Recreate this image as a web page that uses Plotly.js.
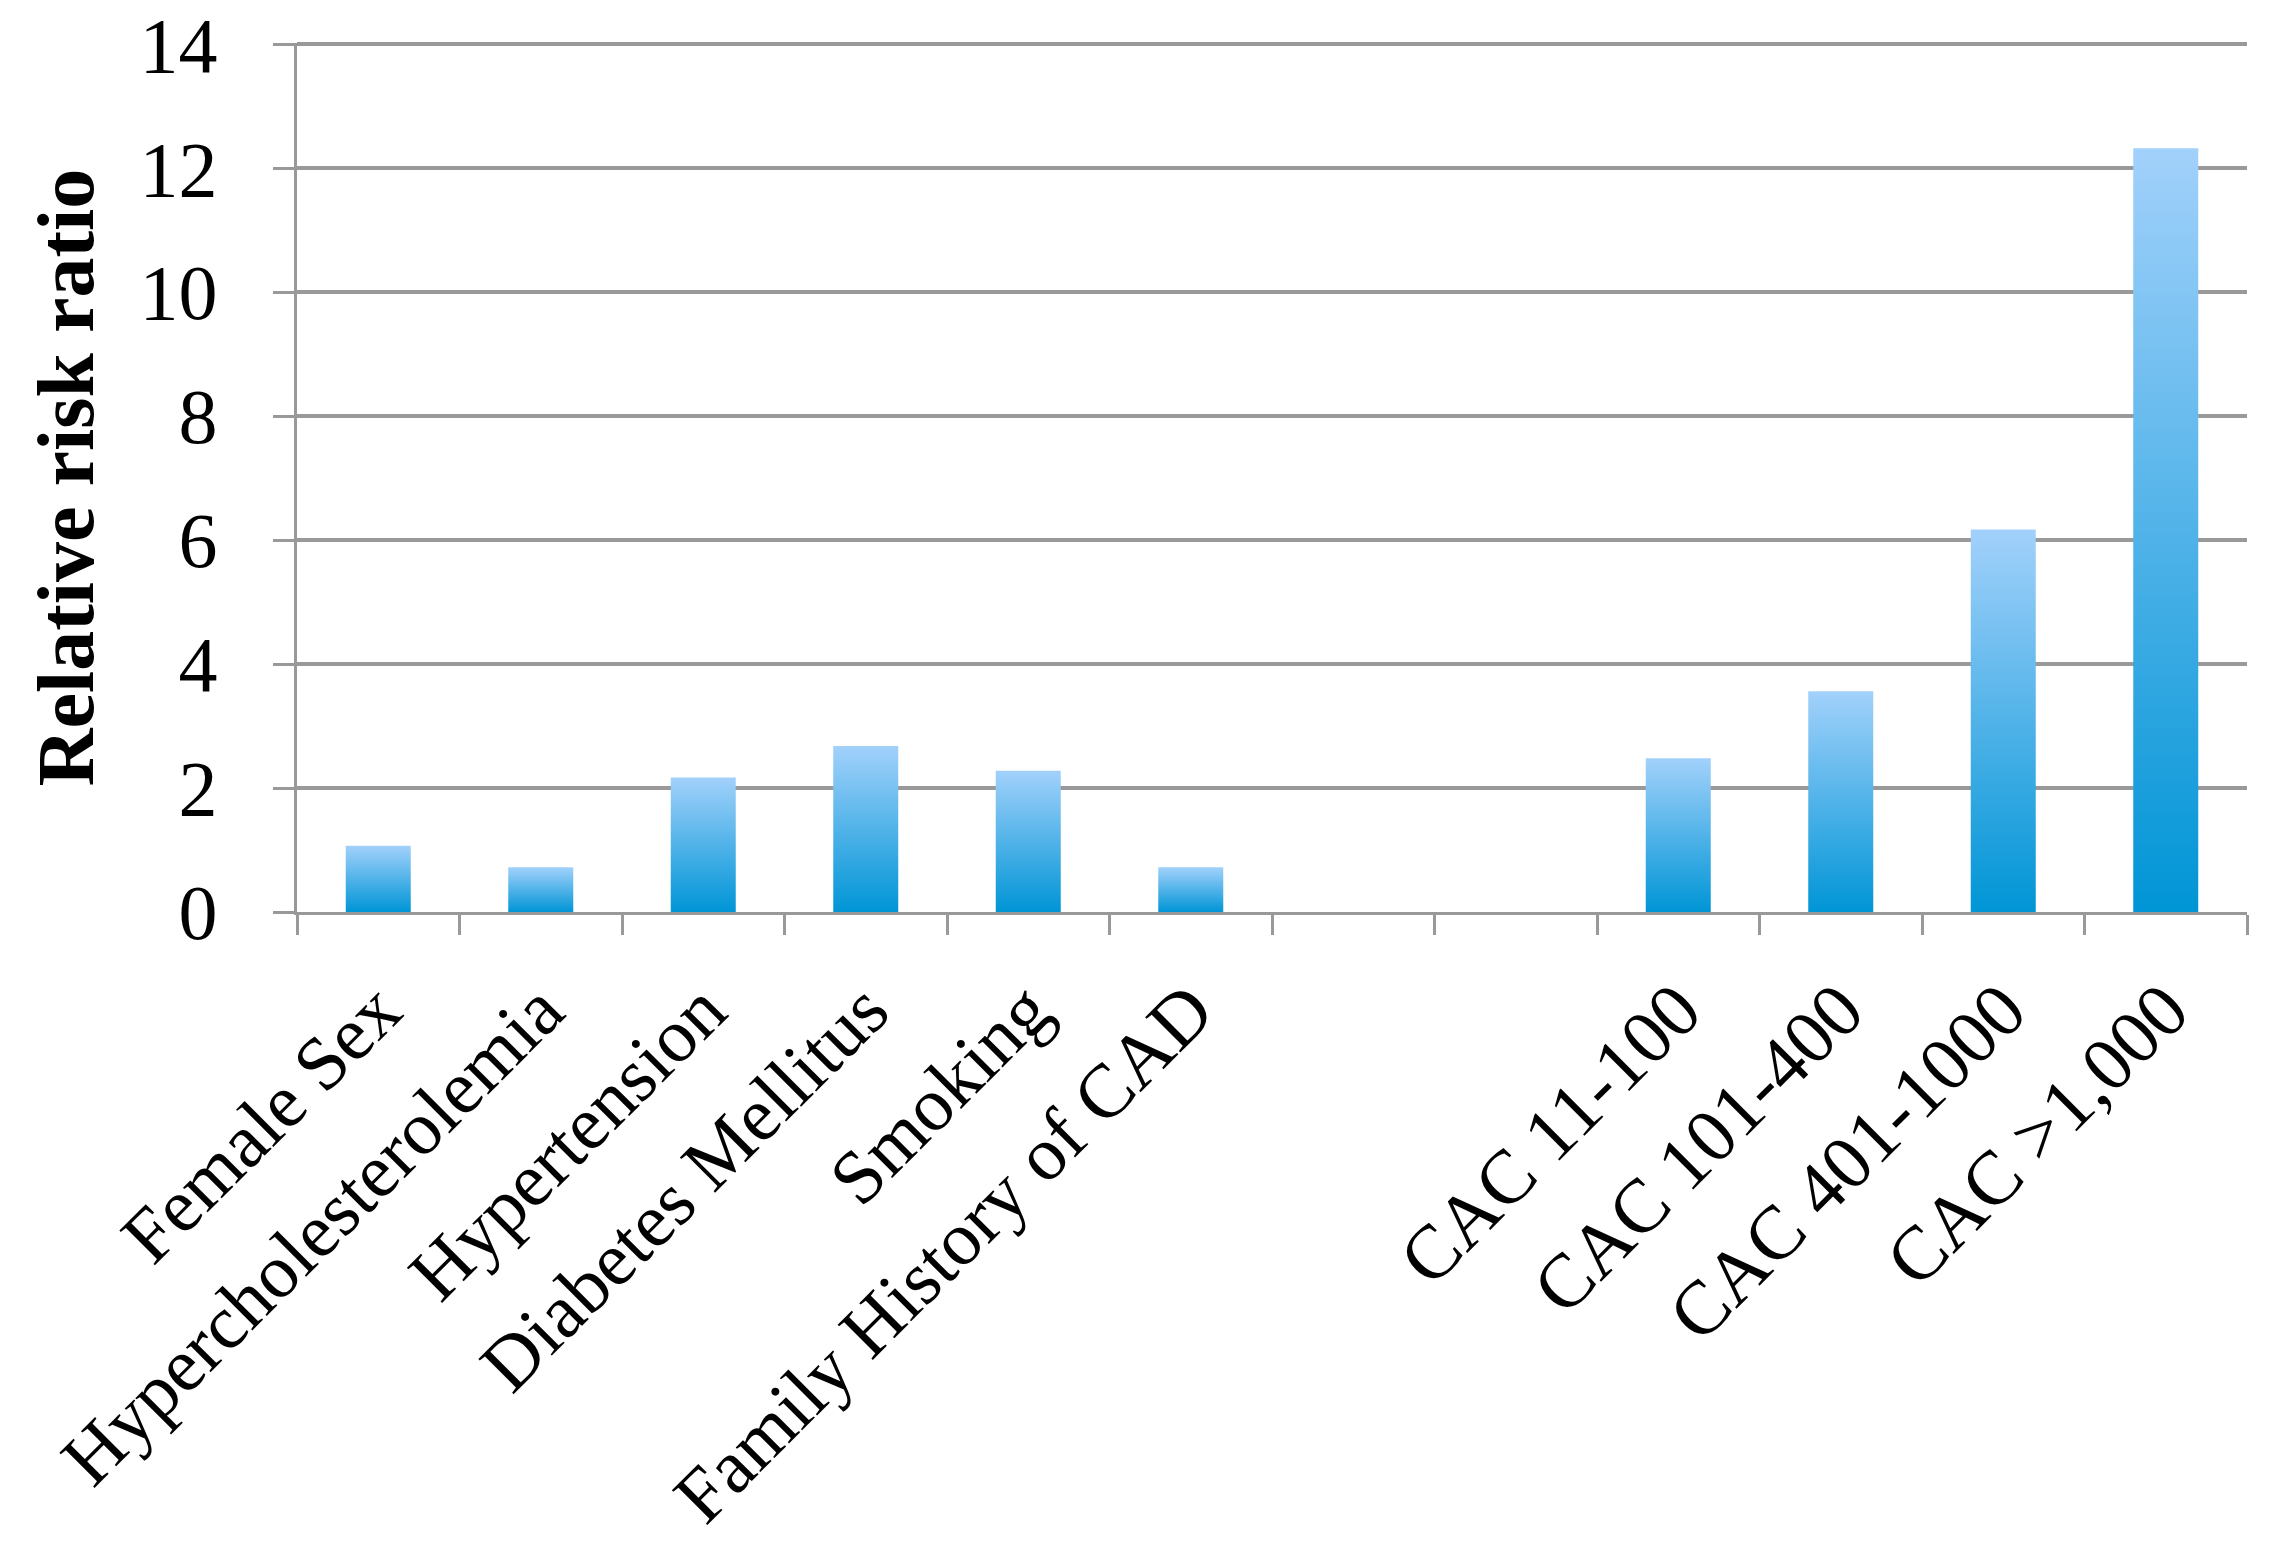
<!DOCTYPE html>
<html>
<head>
<meta charset="utf-8">
<script src="https://cdn.plot.ly/plotly-3.0.1.min.js"></script>
<style>
  html, body { margin: 0; padding: 0; background: #ffffff; }
  #chart { width: 2269px; height: 1549px; }
</style>
</head>
<body>
<div id="chart"></div>
<script>
// Category ids (two blank spacer slots), their shown labels, and values
const categories = [
  "Female Sex", "Hypercholesterolemia", "Hypertension", "Diabetes Mellitus",
  "Smoking", "Family History of CAD", "\u200b", "\u200b\u200b",
  "CAC 11-100", "CAC 101-400", "CAC 401-1000", "CAC >1,000"
];
const relativeRisk = [1.07, 0.72, 2.17, 2.68, 2.28, 0.72, null, null, 2.48, 3.56, 6.17, 12.32];
const yTickValues = [0, 2, 4, 6, 8, 10, 12, 14];

const gridColor = "#999999";

const trace = {
  type: "bar",
  x: categories,
  y: relativeRisk,
  marker: { color: "#4aa8e6", line: { width: 0 } },
  hoverinfo: "x+y"
};

const layout = {
  width: 2269,
  height: 1549,
  paper_bgcolor: "#ffffff",
  plot_bgcolor: "#ffffff",
  margin: { l: 297, r: 22, t: 43, b: 637, autoexpand: false },
  showlegend: false,
  bargap: 0.6,
  font: { family: "Liberation Serif, DejaVu Serif, serif", color: "#000000" },
  xaxis: {
    type: "category",
    categoryorder: "array",
    categoryarray: categories,
    tickangle: -45,
    tickson: "boundaries",
    ticks: "outside",
    ticklen: 20,
    tickwidth: 3,
    tickcolor: gridColor,
    ticklabelstandoff: 20,
    ticklabeloverflow: "allow",
    showline: true,
    linecolor: gridColor,
    linewidth: 3,
    showgrid: false,
    zeroline: false,
    automargin: false,
    tickfont: { family: "Liberation Serif, serif", size: 76, color: "#000000" }
  },
  yaxis: {
    range: [0, 14.02],
    tickmode: "array",
    tickvals: yTickValues,
    ticktext: yTickValues.map(String),
    ticks: "outside",
    ticklen: 21,
    tickwidth: 3,
    tickcolor: gridColor,
    ticklabelstandoff: 40,
    ticklabeloverflow: "allow",
    showline: true,
    linecolor: gridColor,
    linewidth: 3,
    showgrid: true,
    gridcolor: gridColor,
    gridwidth: 3.5,
    zeroline: false,
    automargin: false,
    tickfont: { family: "Liberation Serif, serif", size: 78, color: "#000000" },
    title: {
      text: "<b>Relative risk ratio</b>",
      font: { family: "Liberation Serif, serif", size: 80, color: "#000000" },
      standoff: 20
    }
  }
};

Plotly.newPlot("chart", [trace], layout, { staticPlot: true }).then(function (gd) {
  // vertical light-to-dark gradient applied to each drawn bar
  const svg = gd.querySelector(".main-svg");
  const ns = "http://www.w3.org/2000/svg";
  let defs = svg.querySelector("defs");
  if (!defs) { defs = document.createElementNS(ns, "defs"); svg.insertBefore(defs, svg.firstChild); }
  const grad = document.createElementNS(ns, "linearGradient");
  grad.setAttribute("id", "barGrad");
  grad.setAttribute("x1", "0"); grad.setAttribute("y1", "0");
  grad.setAttribute("x2", "0"); grad.setAttribute("y2", "1");
  [["0%", "#a2d1fb"], ["100%", "#0095d6"]].forEach(function (s) {
    const st = document.createElementNS(ns, "stop");
    st.setAttribute("offset", s[0]);
    st.setAttribute("stop-color", s[1]);
    grad.appendChild(st);
  });
  defs.appendChild(grad);
  gd.querySelectorAll(".trace.bars .point path").forEach(function (p) {
    p.style.fill = "url(#barGrad)";
  });
});
</script>
</body>
</html>
